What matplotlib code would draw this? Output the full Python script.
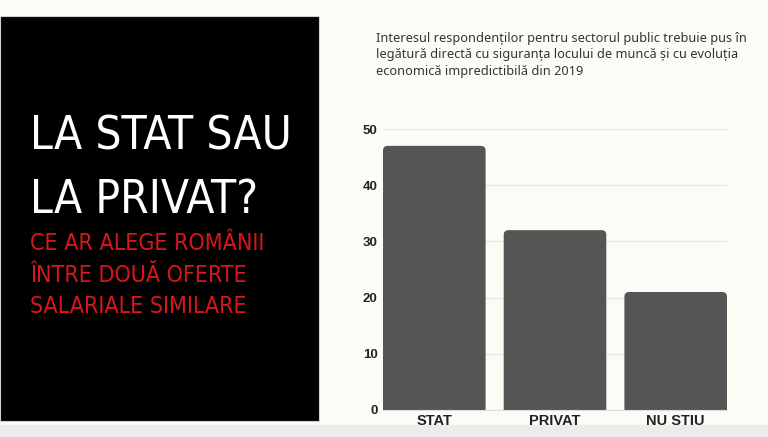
import matplotlib
matplotlib.use("Agg")
import matplotlib.pyplot as plt
from matplotlib.patches import Rectangle, FancyBboxPatch

# Survey answers (percent)
categories = ["STAT", "PRIVAT", "NU ȘTIU"]
values = [47, 32, 21]
yticks = [0, 10, 20, 30, 40, 50]

title_lines = ["LA STAT SAU", "LA PRIVAT?"]
subtitle_lines = ["CE AR ALEGE ROMÂNII", "ÎNTRE DOUĂ OFERTE", "SALARIALE SIMILARE"]
note = ("Interesul respondenților pentru sectorul public trebuie pus în\n"
        "legătură directă cu siguranța locului de muncă și cu evoluția\n"
        "economică impredictibilă din 2019")

BG = "#fcfcf7"
BAR = "#555555"
RED = "#d9161c"

fig = plt.figure(figsize=(7.68, 4.37), dpi=100, facecolor=BG)

# left black panel + thin frame + bottom strip
fig.patches.append(Rectangle((0, 0), 1, 12 / 437, transform=fig.transFigure,
                             facecolor="#ececec", edgecolor="none"))
fig.patches.append(Rectangle((0, 16 / 437), 319 / 768, 405 / 437, transform=fig.transFigure,
                             facecolor="black", edgecolor="#d0d0d0", linewidth=0.8))

# headline
for i, line in enumerate(title_lines):
    fig.text(30 / 768, (437 - 150 - 63 * i) / 437, line, color="white",
             fontsize=33, family="DejaVu Sans", fontstretch="condensed",
             va="baseline", ha="left")
for i, line in enumerate(subtitle_lines):
    fig.text(30 / 768, (437 - 250 - 31.5 * i) / 437, line, color=RED,
             fontsize=16.7, family="DejaVu Sans", fontstretch="condensed",
             va="baseline", ha="left")

fig.text(376 / 768, (437 - 32) / 437, note, color="#333333", fontsize=9.2,
         family=["Noto Sans", "DejaVu Sans"], va="top", ha="left", linespacing=1.33)

# bar chart
ax = fig.add_axes([383 / 768, 27 / 437, 344 / 768, 281 / 437])
ax.set_facecolor(BG)
x = range(len(categories))
bars = ax.bar(x, values, width=0.85, color=BAR, zorder=2)
ax.set_xlim(-0.425, len(categories) - 0.575)
ax.set_ylim(0, 50)

# swap the plain bars for ones with rounded corners
for b in bars:
    b.set_visible(False)
    ax.add_patch(FancyBboxPatch((b.get_x(), -2), b.get_width(), b.get_height() + 2,
                                boxstyle="round,pad=0,rounding_size=0.04",
                                mutation_aspect=21, facecolor=BAR, edgecolor="none",
                                zorder=2, clip_on=True))

ax.set_yticks(yticks)
ax.set_xticks(list(x))
ax.set_xticklabels(categories)
ax.grid(axis="y", color="#e6e6e2", linewidth=0.9, zorder=0)
for s in ["top", "right", "left"]:
    ax.spines[s].set_visible(False)
ax.spines["bottom"].set_color("#dddddd")
ax.tick_params(length=0)
ax.tick_params(axis="y", pad=4)
ax.tick_params(axis="x", pad=3)
for lbl in ax.get_yticklabels() + ax.get_xticklabels():
    lbl.set_fontfamily(["Liberation Sans", "DejaVu Sans"])
    lbl.set_fontweight("bold")
    lbl.set_color("#222222")
for lbl in ax.get_yticklabels():
    lbl.set_fontsize(9.5)
for lbl in ax.get_xticklabels():
    lbl.set_fontsize(10.5)

fig.savefig("out.png", dpi=100, facecolor=BG)
